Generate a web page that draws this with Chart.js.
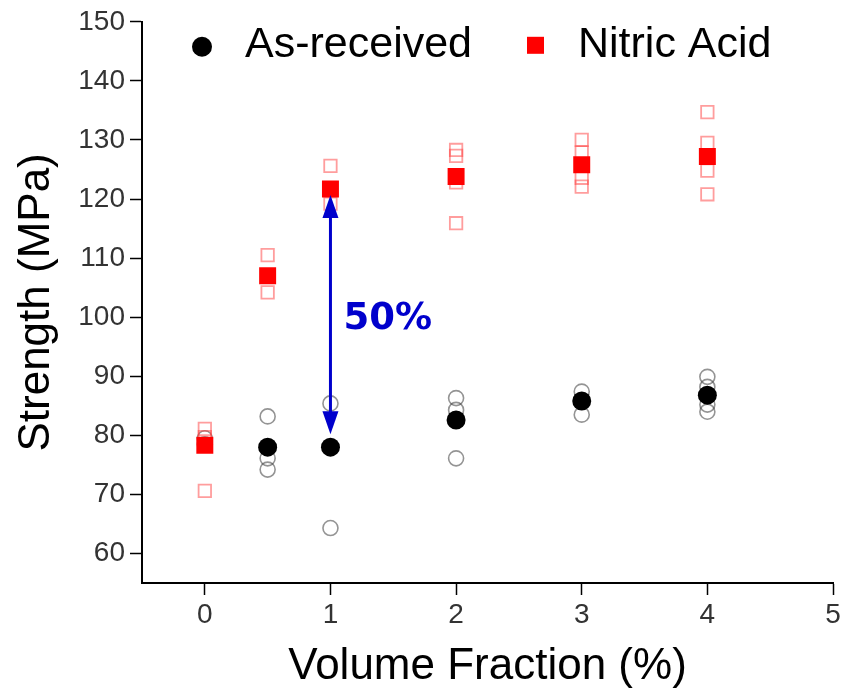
<!DOCTYPE html>
<html>
<head>
<meta charset="utf-8">
<script src="https://cdn.jsdelivr.net/npm/chart.js@4/dist/chart.umd.min.js"></script>
<style>
  html, body { margin: 0; padding: 0; background: #fff; }
  #wrap { width: 853px; height: 689px; }
</style>
</head>
<body>
<div id="wrap"><canvas id="strengthChart" width="853" height="689"></canvas></div>
<script>
// Volume fractions (%) and mean strengths (MPa)
const fractions = [0, 0.5, 1, 2, 3, 4];
const meanAsReceived = [null, 78.0, 78.0, 82.6, 85.8, 86.8];
const meanNitric = [78.3, 107.0, 121.7, 123.8, 125.8, 127.2];

// Individual specimens, one list per volume fraction
const samplesAsReceived = [
    [78.5, 79.5],
    [83.2, 76.1, 74.2],
    [85.4, 64.3],
    [86.3, 84.3, 76.1],
    [87.4, 83.5],
    [89.9, 88.2, 85.2, 84.0]
];
const samplesNitric = [
    [81.1, 79.7, 70.6],
    [110.5, 104.2],
    [125.6, 119.2],
    [128.3, 127.3, 122.8, 115.9],
    [130.0, 127.9, 123.6, 122.1],
    [134.7, 129.5, 124.8, 120.8]
];

const xTicks = [0, 1, 2, 3, 4, 5];
const yTicks = [60, 65, 70, 75, 80, 85, 90, 95, 100, 105, 110, 115, 120, 125, 130, 135, 140, 145, 150];

const increaseLabel = '50%';

function toPoints(means) {
    return fractions.map((x, i) => ({ x: x, y: means[i] })).filter(p => p.y !== null);
}
function flatten(samples) {
    const pts = [];
    samples.forEach((list, i) => list.forEach(v => pts.push({ x: fractions[i], y: v })));
    return pts;
}

const textFont = '"Liberation Sans", Arial, sans-serif';

// Legend drawn inside the plot area, plus the arrow between the means at 1 %
const overlay = {
    id: 'overlay',
    afterDatasetsDraw(chart) {
        const ctx = chart.ctx;
        const area = chart.chartArea;
        const xs = chart.scales.x, ys = chart.scales.y;

        ctx.save();
        // legend
        const ly = area.top + 25;
        ctx.fillStyle = '#000';
        ctx.beginPath();
        ctx.arc(area.left + 60, ly, 10, 0, Math.PI * 2);
        ctx.fill();
        ctx.fillStyle = '#ff0000';
        ctx.fillRect(area.left + 385, ly - 10, 17, 17);
        ctx.fillStyle = '#000';
        ctx.font = '43px ' + textFont;
        ctx.textBaseline = 'middle';
        ctx.fillText('As-received', area.left + 103, ly - 2);
        ctx.fillText('Nitric Acid', area.left + 436, ly - 2);

        // double-headed arrow
        const i = fractions.indexOf(1);
        const ax = xs.getPixelForValue(1);
        const yTop = ys.getPixelForValue(meanNitric[i]) + 6;
        const yBot = ys.getPixelForValue(meanAsReceived[i]) - 13;
        const head = 23, hw = 8;
        ctx.strokeStyle = '#0000cc';
        ctx.fillStyle = '#0000cc';
        ctx.lineWidth = 3;
        ctx.beginPath();
        ctx.moveTo(ax, yTop + head - 2);
        ctx.lineTo(ax, yBot - head + 2);
        ctx.stroke();
        ctx.beginPath();
        ctx.moveTo(ax, yTop);
        ctx.lineTo(ax - hw, yTop + head);
        ctx.lineTo(ax + hw, yTop + head);
        ctx.closePath();
        ctx.fill();
        ctx.beginPath();
        ctx.moveTo(ax, yBot);
        ctx.lineTo(ax - hw, yBot - head);
        ctx.lineTo(ax + hw, yBot - head);
        ctx.closePath();
        ctx.fill();

        ctx.font = 'bold 37px "DejaVu Sans", sans-serif';
        ctx.textBaseline = 'middle';
        ctx.fillText(increaseLabel, ax + 13, (yTop + yBot) / 2 + 5);
        ctx.restore();
    }
};

const ctx = document.getElementById('strengthChart').getContext('2d');

new Chart(ctx, {
    type: 'scatter',
    data: {
        datasets: [
            {
                label: 'Nitric Acid',
                data: toPoints(meanNitric),
                pointStyle: 'rect',
                pointRadius: 12,
                backgroundColor: '#ff0000',
                borderColor: '#ff0000',
                borderWidth: 0,
                order: 0
            },
            {
                label: 'As-received',
                data: toPoints(meanAsReceived),
                pointStyle: 'circle',
                pointRadius: 9.5,
                backgroundColor: '#000',
                borderColor: '#000',
                borderWidth: 0,
                order: 1
            },
            {
                label: 'Nitric Acid (specimens)',
                data: flatten(samplesNitric),
                pointStyle: 'rect',
                pointRadius: 8.8,
                backgroundColor: 'rgba(0,0,0,0)',
                borderColor: 'rgba(255, 60, 60, 0.5)',
                borderWidth: 1.8,
                order: 2
            },
            {
                label: 'As-received (specimens)',
                data: flatten(samplesAsReceived),
                pointStyle: 'circle',
                pointRadius: 7.5,
                backgroundColor: 'rgba(0,0,0,0)',
                borderColor: 'rgba(60, 60, 60, 0.55)',
                borderWidth: 1.6,
                order: 3
            }
        ]
    },
    options: {
        responsive: false,
        animation: false,
        layout: { padding: { top: 20, right: 20, left: 0, bottom: 0 } },
        plugins: {
            legend: { display: false },
            tooltip: { enabled: false }
        },
        scales: {
            x: {
                type: 'linear',
                min: -0.5,
                max: 5,
                afterBuildTicks: axis => { axis.ticks = xTicks.map(v => ({ value: v })); },
                afterFit: axis => { axis.height = 106; },
                border: { display: true, color: '#000', width: 2 },
                grid: { drawOnChartArea: false, drawTicks: true, tickLength: 12, tickColor: '#000', tickWidth: 1.5 },
                ticks: { color: '#333', padding: 3, font: { family: textFont, size: 28 } },
                title: {
                    display: true,
                    text: 'Volume Fraction (%)',
                    color: '#000',
                    padding: { top: 2, bottom: 0 },
                    font: { family: textFont, size: 44, lineHeight: 1 }
                }
            },
            y: {
                type: 'linear',
                min: 55,
                max: 150,
                afterBuildTicks: axis => { axis.ticks = yTicks.map(v => ({ value: v })); },
                afterFit: axis => { axis.width = 142; },
                border: { display: true, color: '#000', width: 2 },
                grid: { drawOnChartArea: false, drawTicks: true, tickLength: 12, tickColor: '#000', tickWidth: 1.5 },
                ticks: {
                    color: '#333',
                    padding: 5,
                    font: { family: textFont, size: 28 },
                    callback: v => (v % 10 === 0 ? String(v) : '')
                },
                title: {
                    display: true,
                    text: 'Strength (MPa)',
                    color: '#000',
                    padding: { top: 15, bottom: 0 },
                    font: { family: textFont, size: 44, lineHeight: 1 }
                }
            }
        }
    },
    plugins: [overlay]
});
</script>
</body>
</html>
